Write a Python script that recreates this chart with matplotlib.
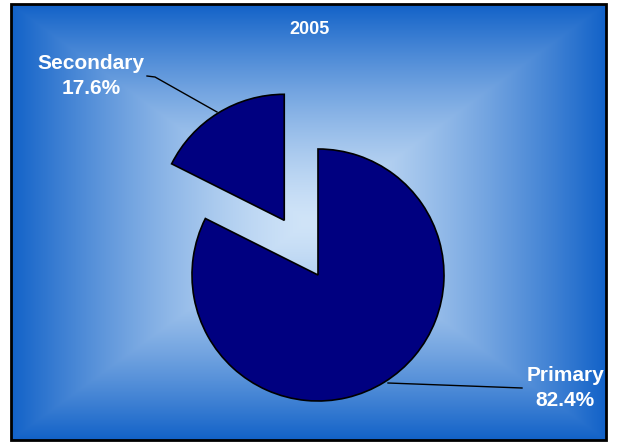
import numpy as np
import matplotlib
matplotlib.use("Agg")
import matplotlib.pyplot as plt
from matplotlib.patches import Rectangle

title = "2005"
categories = ["Primary", "Secondary"]
values = [82.4, 17.6]
explode = [0.0, 0.51]

W, H = 619, 442
fig = plt.figure(figsize=(W / 100, H / 100), dpi=100)
ax = fig.add_axes([0, 0, 1, 1])

# frame in image coords
fx0, fx1 = 11, 606
fy0, fy1 = 4, 440
# rectangular "from center" gradient
nx, ny = 600, 440
xs = np.linspace(-1, 1, nx)
ys = np.linspace(-1, 1, ny)
X, Y = np.meshgrid(xs, ys)
t = np.maximum(np.abs(X), np.abs(Y))
t = np.clip(t, 0, 1) ** 1.4
c0 = np.array([208, 228, 248]) / 255.0
c1 = np.array([18, 98, 200]) / 255.0
img = c0[None, None, :] * (1 - t[..., None]) + c1[None, None, :] * t[..., None]
ax.imshow(img, extent=(fx0, fx1, H - fy1, H - fy0), origin="lower",
          interpolation="bilinear", zorder=0, aspect="auto")
ax.add_patch(Rectangle((fx0, H - fy1), fx1 - fx0, fy1 - fy0, fill=False,
                       edgecolor="black", linewidth=2, zorder=5))

cx, cy, r = 318, H - 275, 126
ax.pie(values, startangle=90, counterclock=False,
       explode=[e * r for e in explode],
       colors=["#000080", "#000080"], center=(cx, cy), radius=r,
       wedgeprops=dict(edgecolor="black", linewidth=1.2), frame=True)
ax.set_xlim(0, W)
ax.set_ylim(0, H)
ax.set_aspect("auto")
ax.axis("off")

font = dict(family=["Liberation Sans", "DejaVu Sans"], weight="bold", color="white")
ax.text(310, H - 29, title, ha="center", va="center", fontsize=13, **font)
ax.text(91, H - 76, f"{categories[1]}\n{values[1]}%", ha="center", va="center",
        fontsize=15, linespacing=1.45, **font)
ax.text(565, H - 388, f"{categories[0]}\n{values[0]}%", ha="center", va="center",
        fontsize=15, linespacing=1.45, **font)

ax.plot([147, 155, 217], [H - 76, H - 77, H - 112], color="black", lw=1, zorder=4)
ax.plot([388, 522], [H - 383, H - 388], color="black", lw=1, zorder=4)

fig.savefig("out.png", dpi=100)
